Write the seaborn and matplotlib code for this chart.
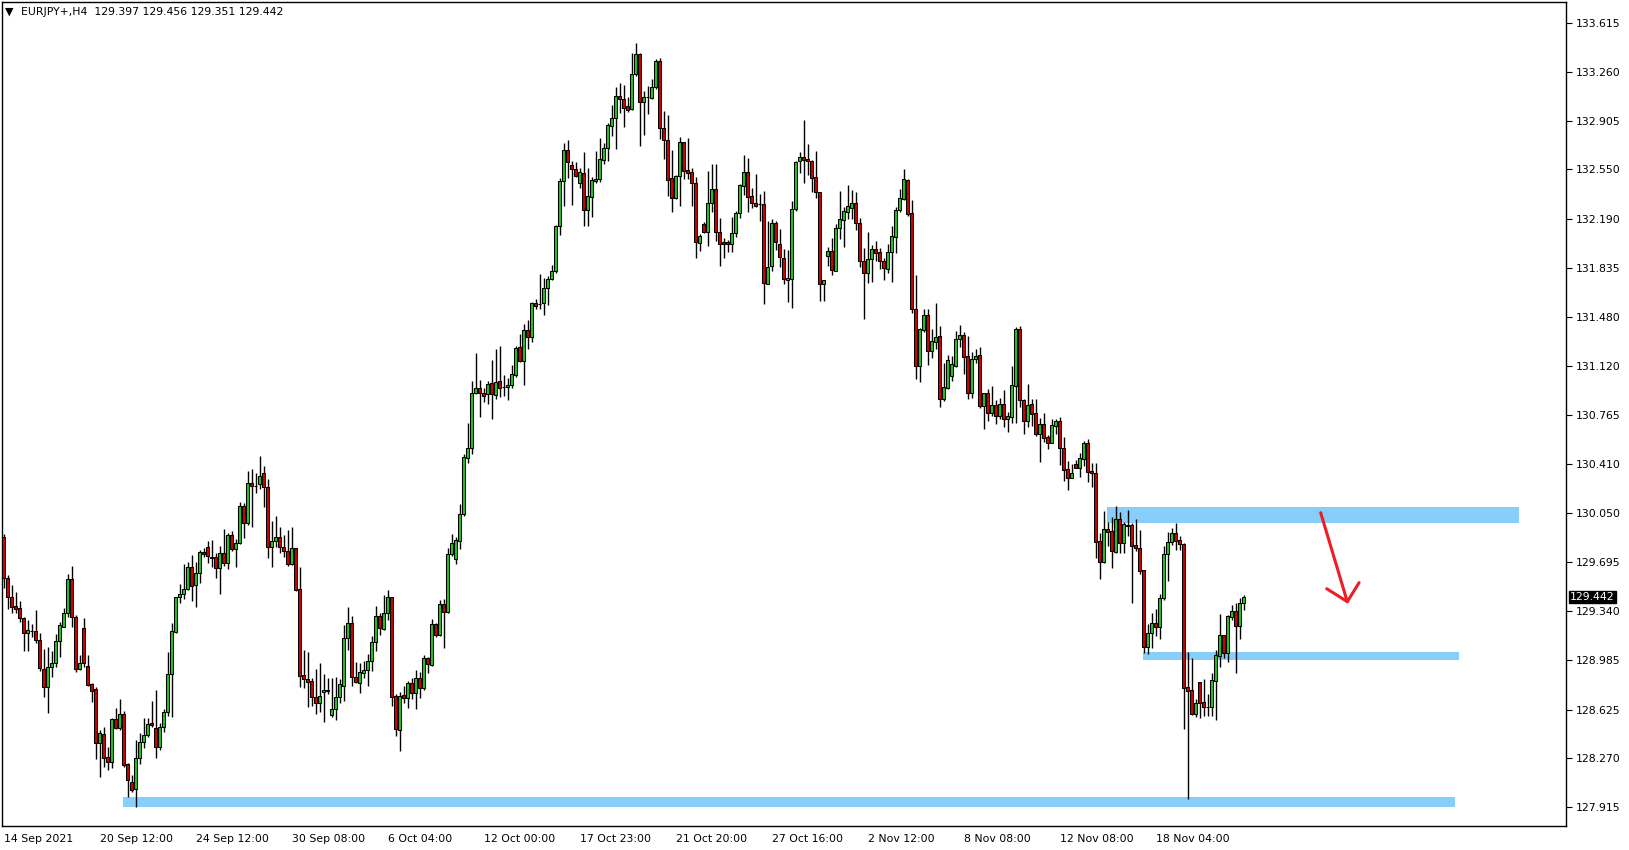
import numpy as np
import pandas as pd
import seaborn as sns
import matplotlib

matplotlib.use('Agg')
import matplotlib.pyplot as plt
import matplotlib.transforms as mtransforms
from matplotlib.patches import Rectangle

# EURJPY+ H4 candles, oldest first
opens = [129.877, 129.579, 129.441, 129.378, 129.361, 129.291, 129.179, 129.196, 129.196, 129.128,
         128.920, 128.787, 128.932, 128.961, 129.121, 129.228, 129.325, 129.572, 129.298, 128.918,
         129.218, 128.942, 128.811, 128.775, 128.380, 128.445, 128.281, 128.242, 128.554, 128.494,
         128.591, 128.230, 128.101, 128.046, 128.271, 128.387, 128.438, 128.525, 128.489, 128.356,
         128.501, 128.605, 128.881, 129.191, 129.441, 129.463, 129.501, 129.661, 129.528, 129.615,
         129.770, 129.804, 129.736, 129.731, 129.656, 129.761, 129.688, 129.891, 129.794, 129.833,
         130.104, 129.983, 130.269, 130.250, 130.262, 130.342, 130.240, 129.804, 129.848, 129.877,
         129.804, 129.775, 129.681, 129.797, 129.499, 128.877, 128.845, 128.830, 128.714, 128.671,
         128.750, 128.760, 128.583, 128.632, 128.714, 128.799, 129.143, 129.252, 128.859, 128.816,
         128.888, 128.913, 128.980, 129.118, 129.305, 129.208, 129.329, 129.445, 128.724, 128.477,
         128.731, 128.707, 128.816, 128.743, 128.852, 128.779, 128.997, 128.949, 129.244, 129.164,
         129.390, 129.334, 129.755, 129.717, 129.852, 130.046, 130.455, 130.523, 130.923, 130.959,
         130.923, 130.916, 130.996, 130.908, 131.010, 130.967, 130.967, 130.981, 131.054, 131.257,
         131.160, 131.383, 131.330, 131.577, 131.572, 131.577, 131.686, 131.751, 131.809, 132.139,
         132.466, 132.691, 132.582, 132.551, 132.454, 132.522, 132.255, 132.352, 132.468, 132.483,
         132.618, 132.703, 132.868, 132.926, 133.083, 133.059, 133.011, 132.987, 133.241, 133.389,
         133.038, 133.074, 133.072, 133.152, 133.338, 132.849, 132.764, 132.486, 132.341, 132.503,
         132.747, 132.546, 132.529, 132.450, 132.014, 132.154, 132.094, 132.304, 132.408, 132.094,
         132.023, 132.023, 132.006, 132.086, 132.232, 132.433, 132.529, 132.358, 132.309, 132.297,
         132.297, 131.718, 131.851, 132.159, 132.009, 131.905, 131.747, 131.757, 132.261, 132.614,
         132.638, 132.626, 132.611, 132.493, 132.384, 131.715, 131.924, 131.957, 131.815, 132.127,
         132.183, 132.243, 132.272, 132.304, 132.159, 131.887, 131.795, 131.897, 131.970, 131.948,
         131.885, 131.829, 131.948, 132.062, 132.255, 132.338, 132.473, 132.231, 131.534, 131.122,
         131.383, 131.492, 131.233, 131.299, 131.340, 130.885, 130.964, 131.052, 131.124, 131.316,
         131.347, 131.195, 130.923, 131.171, 131.202, 130.834, 130.928, 130.783, 130.839, 130.761,
         130.846, 130.735, 130.754, 130.979, 131.391, 130.873, 130.725, 130.846, 130.781, 130.630,
         130.701, 130.606, 130.565, 130.689, 130.722, 130.526, 130.371, 130.311, 130.410, 130.383,
         130.449, 130.565, 130.359, 130.345, 129.851, 129.698, 129.938, 129.923, 129.773, 130.008,
         129.832, 129.966, 129.966, 129.820, 129.796, 129.639, 129.082, 129.179, 129.251, 129.227,
         129.433, 129.753, 129.840, 129.905, 129.857, 129.825, 128.786, 128.767, 128.592, 128.827,
         128.677, 128.641, 128.646, 128.835, 129.016, 129.166, 129.038, 129.300, 129.343, 129.234,
         129.397]
highs = [129.900, 129.603, 129.530, 129.477, 129.414, 129.300, 129.276, 129.247, 129.349, 129.179,
         129.065, 129.082, 129.053, 129.172, 129.259, 129.363, 129.610, 129.668, 129.312, 129.018,
         129.291, 129.022, 128.821, 128.792, 128.477, 128.496, 128.356, 128.562, 128.634, 128.702,
         128.617, 128.235, 128.150, 128.404, 128.453, 128.562, 128.562, 128.690, 128.767, 128.525,
         128.627, 129.044, 129.257, 129.446, 129.538, 129.683, 129.700, 129.748, 129.700, 129.785,
         129.797, 129.853, 129.857, 129.761, 129.814, 129.935, 129.911, 129.925, 129.867, 130.136,
         130.129, 130.359, 130.371, 130.347, 130.470, 130.395, 130.298, 129.998, 130.032, 129.949,
         129.894, 129.930, 129.949, 129.797, 129.664, 129.058, 129.044, 128.855, 128.918, 128.961,
         128.881, 128.852, 128.852, 128.864, 128.845, 129.240, 129.373, 129.305, 128.973, 128.966,
         128.978, 129.029, 129.160, 129.378, 129.324, 129.458, 129.494, 129.445, 128.736, 128.750,
         128.796, 128.833, 128.852, 128.913, 128.898, 129.022, 129.009, 129.281, 129.252, 129.421,
         129.426, 129.797, 129.901, 129.877, 130.119, 130.482, 130.705, 131.012, 131.218, 131.020,
         130.959, 131.015, 131.165, 131.243, 131.267, 131.056, 131.032, 131.129, 131.267, 131.354,
         131.427, 131.456, 131.589, 131.606, 131.790, 131.759, 131.776, 131.855, 132.149, 132.485,
         132.740, 132.764, 132.614, 132.604, 132.558, 132.674, 132.558, 132.497, 132.686, 132.776,
         132.740, 132.890, 133.018, 133.151, 133.180, 133.163, 133.079, 133.393, 133.466, 133.393,
         133.123, 133.157, 133.205, 133.351, 133.358, 132.975, 132.946, 132.692, 132.510, 132.784,
         132.747, 132.779, 132.563, 132.493, 132.081, 132.166, 132.542, 132.588, 132.588, 132.195,
         132.052, 132.038, 132.207, 132.251, 132.445, 132.655, 132.636, 132.418, 132.517, 132.372,
         132.394, 132.176, 132.190, 132.176, 132.115, 131.970, 131.965, 132.321, 132.614, 132.680,
         132.909, 132.735, 132.620, 132.684, 132.384, 131.744, 131.989, 132.050, 132.154, 132.393,
         132.280, 132.437, 132.401, 132.384, 132.195, 131.977, 132.093, 132.001, 132.028, 131.977,
         131.909, 132.006, 132.139, 132.280, 132.406, 132.551, 132.478, 132.328, 131.783, 131.400,
         131.534, 131.534, 131.388, 131.582, 131.413, 131.146, 131.202, 131.195, 131.376, 131.420,
         131.367, 131.340, 131.221, 131.246, 131.260, 130.928, 130.955, 130.977, 130.875, 130.890,
         130.948, 130.788, 131.122, 131.403, 131.415, 130.880, 130.991, 130.885, 130.885, 130.742,
         130.783, 130.621, 130.739, 130.737, 130.753, 130.609, 130.432, 130.412, 130.439, 130.488,
         130.577, 130.589, 130.420, 130.420, 129.906, 130.069, 129.986, 130.027, 130.102, 130.064,
         129.990, 130.075, 129.978, 130.007, 129.929, 129.639, 129.246, 129.324, 129.358, 129.464,
         129.813, 129.912, 129.946, 129.978, 129.886, 129.832, 129.040, 128.997, 128.701, 128.827,
         128.847, 128.735, 128.893, 129.057, 129.319, 129.166, 129.312, 129.384, 129.397, 129.433,
         129.456]
lows = [129.506, 129.354, 129.325, 129.325, 129.259, 129.053, 129.053, 129.155, 129.107, 128.908,
        128.719, 128.598, 128.860, 128.932, 129.010, 129.223, 129.300, 129.223, 128.896, 128.913,
        128.937, 128.797, 128.678, 128.264, 128.138, 128.210, 128.186, 128.198, 128.482, 128.477,
        128.210, 127.988, 128.029, 127.920, 128.227, 128.344, 128.428, 128.501, 128.271, 128.332,
        128.465, 128.579, 128.569, 129.184, 129.402, 129.426, 129.494, 129.417, 129.373, 129.543,
        129.731, 129.693, 129.664, 129.579, 129.467, 129.668, 129.644, 129.780, 129.659, 129.826,
        129.874, 129.966, 129.949, 130.201, 130.226, 130.100, 129.724, 129.664, 129.804, 129.761,
        129.731, 129.668, 129.676, 129.489, 128.792, 128.780, 128.646, 128.651, 128.591, 128.610,
        128.537, 128.736, 128.573, 128.549, 128.675, 128.690, 129.058, 128.799, 128.816, 128.748,
        128.852, 128.799, 128.908, 129.053, 129.167, 129.203, 129.276, 128.653, 128.433, 128.326,
        128.670, 128.639, 128.699, 128.627, 128.707, 128.767, 128.888, 128.944, 129.155, 129.160,
        129.070, 129.324, 129.743, 129.680, 129.794, 130.034, 130.419, 130.482, 130.918, 130.753,
        130.862, 130.843, 130.734, 130.879, 130.899, 130.904, 130.875, 130.959, 131.044, 131.153,
        130.981, 131.243, 131.294, 131.538, 131.533, 131.492, 131.565, 131.746, 131.800, 132.073,
        132.287, 132.485, 132.291, 132.492, 132.413, 132.141, 132.141, 132.207, 132.454, 132.459,
        132.589, 132.614, 132.793, 132.701, 132.957, 132.861, 132.970, 132.982, 133.231, 132.721,
        132.800, 132.953, 133.065, 133.133, 132.774, 132.624, 132.360, 132.244, 132.333, 132.287,
        132.479, 132.479, 132.287, 131.909, 131.960, 132.086, 131.997, 132.239, 132.033, 131.851,
        131.909, 131.948, 131.953, 132.062, 132.195, 132.365, 132.239, 132.273, 132.280, 132.178,
        131.570, 131.716, 131.815, 131.965, 131.844, 131.718, 131.590, 131.546, 132.251, 132.527,
        132.449, 132.510, 132.389, 132.340, 131.597, 131.597, 131.851, 131.783, 131.815, 132.045,
        131.989, 132.188, 132.188, 132.110, 131.844, 131.461, 131.727, 131.735, 131.885, 131.827,
        131.747, 131.800, 131.735, 131.941, 132.243, 132.328, 132.212, 131.509, 131.025, 131.008,
        131.371, 131.129, 131.178, 131.245, 130.826, 130.868, 130.952, 131.015, 131.112, 131.262,
        131.064, 130.882, 130.892, 131.146, 130.819, 130.667, 130.722, 130.759, 130.701, 130.735,
        130.681, 130.645, 130.710, 130.710, 130.827, 130.628, 130.681, 130.689, 130.616, 130.425,
        130.572, 130.521, 130.560, 130.630, 130.403, 130.289, 130.221, 130.306, 130.379, 130.318,
        130.396, 130.279, 130.245, 129.725, 129.577, 129.688, 129.817, 129.650, 129.761, 129.761,
        129.760, 129.888, 129.401, 129.779, 129.607, 129.038, 129.026, 129.070, 129.162, 129.135,
        129.421, 129.561, 129.820, 129.784, 129.784, 128.481, 127.972, 128.585, 128.573, 128.561,
        128.578, 128.578, 128.578, 128.549, 128.936, 128.997, 128.973, 129.275, 128.893, 129.137,
        129.351]
closes = [129.579, 129.441, 129.373, 129.358, 129.288, 129.179, 129.203, 129.196, 129.131, 128.925,
          128.787, 128.932, 128.961, 129.121, 129.237, 129.325, 129.572, 129.295, 128.918, 128.961,
          128.961, 128.801, 128.763, 128.380, 128.453, 128.276, 128.242, 128.554, 128.494, 128.591,
          128.220, 128.111, 128.041, 128.271, 128.387, 128.438, 128.518, 128.513, 128.351, 128.501,
          128.605, 128.881, 129.194, 129.441, 129.463, 129.501, 129.661, 129.523, 129.615, 129.770,
          129.753, 129.741, 129.724, 129.652, 129.761, 129.688, 129.891, 129.790, 129.833, 130.104,
          129.983, 130.269, 130.250, 130.250, 130.322, 130.240, 129.804, 129.848, 129.877, 129.804,
          129.775, 129.681, 129.797, 129.494, 128.872, 128.845, 128.828, 128.714, 128.671, 128.726,
          128.767, 128.767, 128.627, 128.719, 128.808, 129.143, 129.252, 128.859, 128.823, 128.896,
          128.913, 128.980, 129.118, 129.305, 129.215, 129.329, 129.445, 128.719, 128.481, 128.724,
          128.707, 128.816, 128.743, 128.852, 128.779, 128.997, 128.956, 129.244, 129.164, 129.390,
          129.336, 129.753, 129.833, 129.857, 130.044, 130.458, 130.523, 130.923, 130.959, 130.923,
          130.906, 130.988, 130.916, 131.003, 130.964, 130.967, 130.981, 131.061, 131.250, 131.160,
          131.383, 131.330, 131.577, 131.558, 131.572, 131.686, 131.751, 131.809, 132.139, 132.466,
          132.691, 132.601, 132.551, 132.505, 132.529, 132.255, 132.359, 132.473, 132.478, 132.623,
          132.703, 132.873, 132.921, 133.083, 133.059, 132.999, 132.982, 133.241, 133.389, 133.042,
          133.074, 133.074, 133.152, 133.338, 132.849, 132.764, 132.474, 132.341, 132.503, 132.747,
          132.542, 132.527, 132.450, 132.021, 132.069, 132.098, 132.304, 132.408, 132.094, 132.006,
          132.006, 132.006, 132.086, 132.232, 132.437, 132.529, 132.353, 132.309, 132.287, 132.297,
          131.723, 131.844, 132.159, 132.021, 131.912, 131.752, 131.762, 132.261, 132.607, 132.638,
          132.619, 132.614, 132.490, 132.384, 131.715, 131.744, 131.957, 131.819, 132.122, 132.188,
          132.248, 132.284, 132.304, 132.159, 131.887, 131.800, 131.899, 131.970, 131.945, 131.885,
          131.836, 131.948, 132.066, 132.255, 132.340, 132.481, 132.226, 131.534, 131.122, 131.391,
          131.492, 131.233, 131.304, 131.330, 130.885, 130.967, 131.165, 131.136, 131.316, 131.345,
          131.190, 130.923, 131.171, 131.195, 130.834, 130.928, 130.783, 130.839, 130.761, 130.844,
          130.735, 130.759, 130.984, 131.391, 130.873, 130.725, 130.839, 130.776, 130.630, 130.701,
          130.601, 130.565, 130.693, 130.722, 130.524, 130.366, 130.311, 130.342, 130.383, 130.451,
          130.565, 130.352, 130.347, 129.846, 129.696, 129.935, 129.918, 129.780, 130.008, 129.834,
          129.973, 129.961, 129.816, 129.796, 129.634, 129.082, 129.179, 129.251, 129.227, 129.433,
          129.753, 129.840, 129.905, 129.852, 129.825, 128.779, 128.762, 128.592, 128.670, 128.675,
          128.646, 128.641, 128.839, 129.021, 129.166, 129.033, 129.304, 129.343, 129.234, 129.397,
          129.442]

# time axis labels (every 24 bars) and price axis labels
date_ticks = [0, 24, 48, 72, 96, 120, 144, 168, 192, 216, 240, 264, 288]
date_labels = ["14 Sep 2021", "20 Sep 12:00", "24 Sep 12:00", "30 Sep 08:00", "6 Oct 04:00",
               "12 Oct 00:00", "17 Oct 23:00", "21 Oct 20:00", "27 Oct 16:00", "2 Nov 12:00",
               "8 Nov 08:00", "12 Nov 08:00", "18 Nov 04:00"]
price_ticks = [133.615, 133.260, 132.905, 132.550, 132.190, 131.835, 131.480, 131.120, 130.765,
               130.410, 130.050, 129.695, 129.340, 128.985, 128.625, 128.270, 127.915]

# blue support / resistance zones: start bar, end bar, low, high
zone_start = [275.8, 284.8, 29.9]
zone_end = [378.9, 363.9, 362.8]
zone_low = [129.983, 128.985, 127.919]
zone_high = [130.097, 129.041, 127.991]

last_price = closes[-1]

df = pd.DataFrame({"o": opens, "h": highs, "l": lows, "c": closes})
df["x"] = np.arange(len(df))
df["up"] = df["c"] >= df["o"]
df["body"] = (df["c"] - df["o"]).abs().clip(lower=0.003)
df["bottom"] = df[["o", "c"]].min(axis=1)

sns.set_theme(style="white")
plt.rcParams['font.family'] = ['DejaVu Sans']

W, H = 1629, 850
fig = plt.figure(figsize=(W / 100, H / 100), dpi=100)
ax = fig.add_axes([2 / W, 1 - 826 / H, 1564 / W, 824 / H])

for x0, x1, lo, hi in zip(zone_start, zone_end, zone_low, zone_high):
    ax.add_patch(Rectangle((x0, lo), x1 - x0, hi - lo, facecolor="#87cefa",
                           edgecolor="none", zorder=1))

ax.vlines(df["x"], df["l"], df["h"], color="black", linewidth=1, zorder=2)
up = df[df["up"]]
dn = df[~df["up"]]
ax.bar(up["x"], up["body"], bottom=up["bottom"], width=0.62, color="#1ec81e",
       edgecolor="black", linewidth=0.75, zorder=3)
ax.bar(dn["x"], dn["body"], bottom=dn["bottom"], width=0.62, color="#d20000",
       edgecolor="black", linewidth=0.75, zorder=3)

# hand drawn red arrow
ax.plot([329.3, 335.95], [130.055, 129.409], color="#ee1c24", linewidth=2.2,
        solid_capstyle="round", zorder=4)
ax.plot([330.8, 335.95, 338.9], [129.503, 129.409, 129.547], color="#ee1c24",
        linewidth=2.2, solid_capstyle="round", solid_joinstyle="round", zorder=4)

ax.set_xlim(-0.375, 390.625)
ax.set_ylim(127.7785, 133.767)

ax.yaxis.tick_right()
ax.set_yticks(price_ticks)
ax.set_yticklabels([f"{p:.3f}" for p in price_ticks])
ax.set_xticks(date_ticks)
ax.set_xticklabels(date_labels)
for lbl in ax.get_xticklabels():
    lbl.set_horizontalalignment("left")
ax.tick_params(axis="both", direction="out", length=4, width=0.8, color="black",
               labelsize=7.8, labelcolor="black")
ax.tick_params(axis="y", pad=3)
ax.tick_params(axis="x", pad=2)
for s in ax.spines.values():
    s.set_color("black")
    s.set_linewidth(1)
ax.grid(False)
ax.set_xlabel("")
ax.set_ylabel("")

trans = mtransforms.blended_transform_factory(ax.transAxes, ax.transData)
ax.text(1.0 + 4 / 1564, last_price, f"{last_price:.3f}", transform=trans,
        ha="left", va="center", color="white", fontsize=7.8,
        bbox=dict(boxstyle="square,pad=0.12", facecolor="black", edgecolor="black"))

fig.text(5 / W, 1 - 12 / H, "\u25bc", fontsize=8, va="center", ha="left", color="black")
fig.text(21 / W, 1 - 12 / H, "EURJPY+,H4  129.397 129.456 129.351 129.442",
         fontsize=7.8, va="center", ha="left", color="black")

fig.savefig("out.png", dpi=100, facecolor="white")
